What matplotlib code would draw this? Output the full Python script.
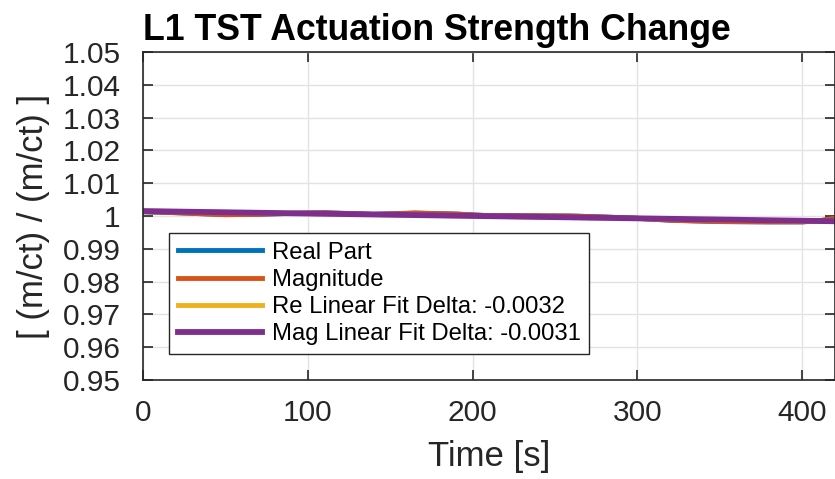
import matplotlib
matplotlib.use("Agg")
import matplotlib.pyplot as plt
import numpy as np

plt.rcParams['font.family'] = ['Liberation Sans', 'DejaVu Sans']

# time samples [s] and normalised actuation strength
time_s = [0, 20, 50, 70, 90, 110, 140, 165, 190, 210, 230, 260, 280, 300,
          320, 350, 380, 400, 410, 420]
real_part = [1.0013, 1.0010, 1.0004, 1.0005, 1.0008, 1.0010, 1.0005, 1.0009,
             1.0006, 1.0001, 1.0001, 1.0000, 0.9997, 0.9993, 0.9987, 0.9983,
             0.9982, 0.9982, 0.9985, 0.9993]
magnitude = [1.0013, 1.0010, 1.0004, 1.0005, 1.0008, 1.0010, 1.0005, 1.0009,
             1.0006, 1.0001, 1.0001, 1.0000, 0.9997, 0.9993, 0.9987, 0.9983,
             0.9982, 0.9982, 0.9985, 0.9993]

# linear fit end points (start, end)
fit_time = [0, 420]
re_fit = [1.0015, 0.9983]
mag_fit = [1.0015, 0.9984]

labels = ['Real Part', 'Magnitude',
          'Re Linear Fit Delta: -0.0032', 'Mag Linear Fit Delta: -0.0031']
colors = ['#0072BD', '#D95319', '#EDB120', '#7E2F8E']

fig = plt.figure(figsize=(8.35, 4.79), dpi=100)
ax = fig.add_axes([143 / 835, 1 - 380 / 479, 692 / 835, 328 / 479])

ax.plot(time_s, real_part, color=colors[0], lw=3.5, label=labels[0])
ax.plot(time_s, magnitude, color=colors[1], lw=3.5, label=labels[1])
ax.plot(fit_time, re_fit, color=colors[2], lw=3.5, label=labels[2])
ax.plot(fit_time, mag_fit, color=colors[3], lw=4.2, label=labels[3])

ax.set_xlim(0, 420)
ax.set_ylim(0.95, 1.05)
ax.set_xticks([0, 100, 200, 300, 400])
ax.set_yticks(np.round(np.arange(0.95, 1.0501, 0.01), 2))
ax.set_yticklabels(['0.95', '0.96', '0.97', '0.98', '0.99', '1',
                    '1.01', '1.02', '1.03', '1.04', '1.05'])

ax.grid(True, color='#e3e3e3', lw=1)
ax.set_axisbelow(True)
for s in ax.spines.values():
    s.set_color('#262626')
    s.set_linewidth(1.2)
ax.tick_params(direction='in', top=True, right=True, length=7, width=1.2,
               colors='#262626', labelsize=21.5)
ax.tick_params(axis='x', pad=14)
ax.tick_params(axis='y', pad=16)

ax.set_xlabel('Time [s]', fontsize=25, color='#262626', labelpad=9)
ax.set_ylabel('[ (m/ct) / (m/ct) ]', fontsize=25, color='#262626', labelpad=9)
ax.set_title('L1 TST Actuation Strength Change', loc='left', fontsize=25.7,
             fontweight='bold', pad=9)

leg = ax.legend(loc='upper left', bbox_to_anchor=(0.0376, 0.448),
                borderaxespad=0, fontsize=17.2, handlelength=3.55,
                labelspacing=0.22, fancybox=False, framealpha=1,
                edgecolor='#262626', borderpad=0.36, handletextpad=0.4)
leg.get_frame().set_linewidth(1.0)

fig.savefig('out.png', dpi=100)
